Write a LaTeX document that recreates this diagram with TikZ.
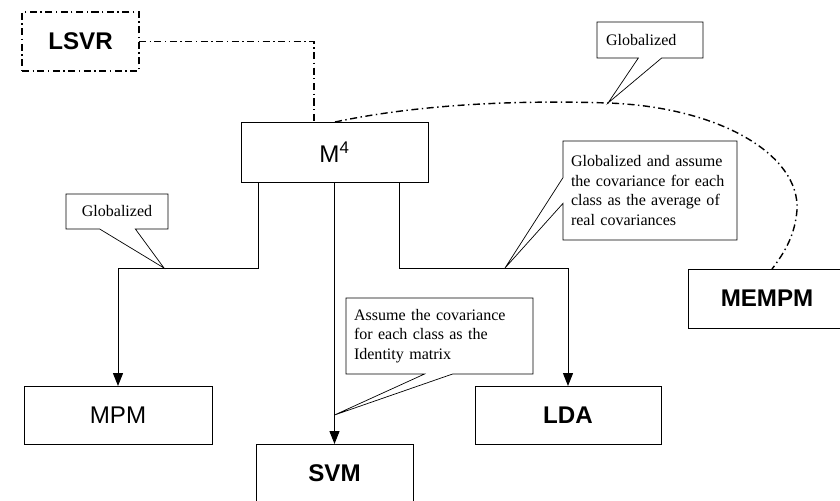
\documentclass[tikz,border=0pt]{standalone}
\usepackage{fontspec}
\setmainfont{Liberation Serif}
\setsansfont{Liberation Sans}
\usetikzlibrary{positioning}
\usetikzlibrary{calc}
\usetikzlibrary{arrows.meta}

\begin{document}
\begin{tikzpicture}[x = 0.03cm, y = -0.03cm,
		model/.style = {draw = black, line width = 0.8pt, inner sep = 0pt, outer sep = 0pt, minimum height = 1.74cm, font = \sffamily\fontsize{20.6}{24}\selectfont},
		dashdot/.style = {black, line width = 1.2pt, dash pattern = on 6pt off 3pt on 1.2pt off 3pt},
		flow/.style = {black, line width = 0.8pt, -{Triangle[length = 11pt, width = 8.5pt]}},
		note/.style = {inner sep = 0pt, outer sep = 0pt, align = left, font = \fontsize{13.7}{16.7}\selectfont},
		callout/.style = {black, line width = 0.6pt, line join = miter}]
	\useasboundingbox (0, 0) rectangle (840, 500);
	% models
	\node (lsvr) at (80.5, 41.5) [model, dashdot, minimum width = 3.51cm, minimum height = 1.77cm, font = \sffamily\bfseries\fontsize{20.6}{24}\selectfont] {LSVR};
	\node (m4) at (334.5, 152) [model, minimum width = 5.61cm, minimum height = 1.8cm] {M\textsuperscript{4}};
	\node (mpm) at (118, 415) [model, minimum width = 5.64cm] {MPM};
	\node (svm) at (334.5, 473) [model, minimum width = 4.71cm, font = \sffamily\bfseries\fontsize{20.6}{24}\selectfont] {SVM};
	\node (lda) at (568, 415) [model, minimum width = 5.58cm, font = \sffamily\bfseries\fontsize{20.6}{24}\selectfont] {LDA};
	\node (mempm) at (767, 298.5) [model, minimum width = 4.74cm, minimum height = 1.77cm, font = \sffamily\bfseries\fontsize{20.6}{24}\selectfont] {MEMPM};
	% links
	\draw [dashdot] (lsvr.east) -| ($(m4.north) + (-20.5, 0)$);
	\draw [dashdot] ($(m4.north) + (0.5, 0)$) .. controls (420, 104) and (520, 100) .. (608, 103) coordinate (gtip)
		.. controls (720, 107) and (800, 155) .. (797, 210)
		.. controls (795, 235) and (785, 252) .. ($(mempm.north) + (5, 0)$);
	\draw [flow] ($(m4.south) + (-76.5, 0)$) -- ++(0, 86) coordinate (mpmbend) -| (mpm.north);
	\draw [flow] (m4.south) -- (svm.north);
	\draw [flow] ($(m4.south) + (64.5, 0)$) -- ++(0, 86) coordinate (ldabend) -| (lda.north);
	\coordinate (mtip) at ($(mpmbend) + (-94, 0)$);
	\coordinate (ltip) at ($(ldabend) + (106, 0)$);
	\coordinate (stip) at ($(svm.north) + (0, -29)$);
	% callouts
	\node (glob1) at (117, 211.5) [note, align = center, minimum width = 3.06cm, minimum height = 1.05cm] {Globalized};
	\draw [callout] (glob1.north west) -- (glob1.north east) -- (glob1.south east) -- ($(glob1.south west)!0.68!(glob1.south east)$) -- (mtip) -- ($(glob1.south west)!0.33!(glob1.south east)$) -- (glob1.south west) -- cycle;
	\node (glob2) at (650, 40) [note, text width = 2.64cm, minimum width = 3.18cm, minimum height = 1.08cm] {Globalized};
	\draw [callout] (glob2.north west) -- (glob2.north east) -- (glob2.south east) -- ($(glob2.south west)!0.61!(glob2.south east)$) -- (gtip) -- ($(glob2.south west)!0.39!(glob2.south east)$) -- (glob2.south west) -- cycle;
	\node (avg) at (650, 190.5) [note, text width = 4.74cm, minimum width = 5.22cm, minimum height = 2.97cm] {Globalized and assume\\the covariance for each\\class as the average of\\real covariances};
	\draw [callout] (avg.north west) -- (avg.north east) -- (avg.south east) -- (avg.south west) -- ($(avg.south west)!0.37!(avg.north west)$) -- (ltip) -- ($(avg.south west)!0.63!(avg.north west)$) -- cycle;
	\node (ident) at (439.5, 336) [note, text width = 5.13cm, minimum width = 5.61cm, minimum height = 2.28cm] {Assume the covariance\\for each class as the\\Identity matrix};
	\draw [callout] (ident.north west) -- (ident.north east) -- (ident.south east) -- ($(ident.south west)!0.57!(ident.south east)$) -- (stip) -- ($(ident.south west)!0.42!(ident.south east)$) -- (ident.south west) -- cycle;
\end{tikzpicture}
\end{document}
